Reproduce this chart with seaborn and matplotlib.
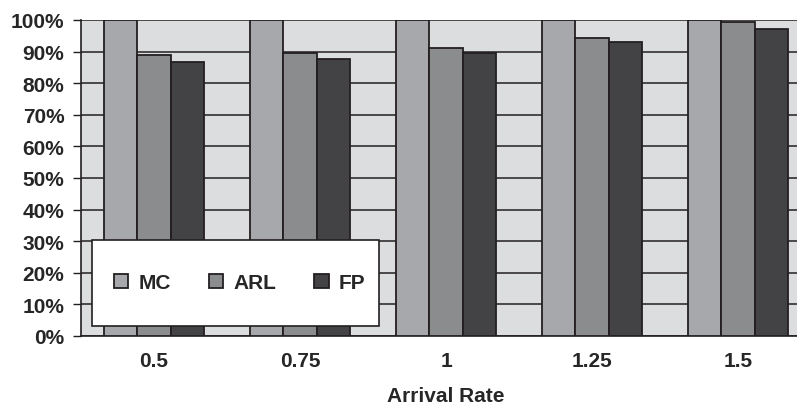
import numpy as np
import pandas as pd
import matplotlib
matplotlib.use("Agg")
import matplotlib.pyplot as plt
import matplotlib.patches as mpatches
import seaborn as sns

# --- Data ---
arrival_rates = ["0.5", "0.75", "1", "1.25", "1.5"]
mc_values = [100.0, 100.0, 100.0, 100.0, 100.0]
arl_values = [88.9, 89.4, 91.2, 94.3, 99.4]
fp_values = [86.6, 87.6, 89.7, 92.9, 97.2]
series_names = ["MC", "ARL", "FP"]
series_colors = ["#A7A8AB", "#8B8C8E", "#434345"]
y_ticks = [0, 10, 20, 30, 40, 50, 60, 70, 80, 90, 100]

df = pd.DataFrame({
    "rate": arrival_rates * 3,
    "series": [s for s in series_names for _ in arrival_rates],
    "value": mc_values + arl_values + fp_values,
})

sns.set_style("white")
plt.rcParams["font.family"] = ["Liberation Sans", "DejaVu Sans"]
plt.rcParams["font.weight"] = "bold"

FS = 15

fig = plt.figure(figsize=(7.97, 4.06), dpi=100)
# axes run past the right edge, as in the (cropped) reference
ax = fig.add_axes([81 / 797, 1 - 337 / 406, 730 / 797, 316 / 406])
ax.set_facecolor("#DCDDDF")

sns.barplot(data=df, x="rate", y="value", hue="series", order=arrival_rates,
            hue_order=series_names, palette=series_colors, width=0.68,
            edgecolor="#231F20", linewidth=1.3, saturation=1, ax=ax, zorder=3)

ax.set_ylim(0, 100)
ax.set_xlim(-0.5, len(arrival_rates) - 0.5)
ax.set_yticks(y_ticks)
ax.set_yticklabels([f"{t}%" for t in y_ticks], fontsize=FS, fontweight="bold")
ax.yaxis.grid(True, color="#231F20", linewidth=1.1, zorder=0)
ax.set_axisbelow(True)

# labels at category centres, tick marks between categories
ax.set_xticks(range(len(arrival_rates)))
ax.set_xticklabels(arrival_rates, fontsize=FS, fontweight="bold")
ax.tick_params(axis="x", which="major", length=0, pad=11)
ax.set_xticks(np.arange(0.5, len(arrival_rates) - 0.5, 1), minor=True)
ax.tick_params(axis="x", which="minor", length=5, width=1, color="#231F20", direction="out")
ax.tick_params(axis="y", length=6, width=1, color="#231F20", direction="out", pad=6, left=True)

ax.set_xlabel("Arrival Rate", fontsize=FS, fontweight="bold", labelpad=11)
ax.set_ylabel("")

for side in ["top", "right"]:
    ax.spines[side].set_visible(False)
for side in ["left", "bottom"]:
    ax.spines[side].set_color("#231F20")
    ax.spines[side].set_linewidth(1.2)

# legend box drawn separately so it can be taller than the entries need
box = mpatches.Rectangle((0.015, 0.032), 0.393, 0.272, transform=ax.transAxes,
                         facecolor="white", edgecolor="#231F20", linewidth=1.2,
                         zorder=4, clip_on=False)
ax.add_patch(box)

handles, labels = ax.get_legend_handles_labels()
leg = ax.legend(handles, labels, ncol=3, loc="center",
                bbox_to_anchor=(0.045, 0.118, 0.345, 0.1), mode="expand",
                borderaxespad=0, borderpad=0, frameon=False,
                prop={"weight": "bold", "size": FS},
                handlelength=0.7, handleheight=0.7, handletextpad=0.5)
leg.set_zorder(5)

fig.savefig("out.png", dpi=100)
